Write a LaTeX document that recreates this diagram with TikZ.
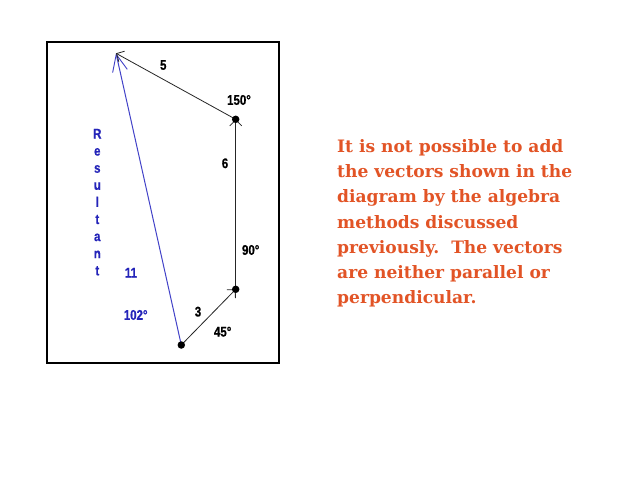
\documentclass[tikz,border=0pt]{standalone}
\usepackage{fontspec}
\setmainfont{DejaVu Serif}
\newfontfamily\notefont{DejaVu Serif Bold}
\newfontfamily\labelfont{Liberation Sans Bold}[FakeStretch=0.82,FakeBold=0.6]
\usetikzlibrary{arrows.meta}
\definecolor{notecol}{RGB}{226,84,38}
\definecolor{resline}{RGB}{66,66,200}
\definecolor{restext}{RGB}{36,36,185}
\tikzset{
  vec/.style={draw=black!85, line width=0.8pt, -{Straight Barb[length=6pt,width=12pt,line width=0.8pt]}},
  resvec/.style={draw=resline, line width=1pt, -{Straight Barb[length=17pt,width=15pt,line width=0.9pt]}},
  dot/.style={circle, fill=black, inner sep=0pt, minimum size=7.5pt},
  lbl/.style={font=\labelfont\fontsize{14}{16}\selectfont, inner sep=0pt, text=black},
  rlbl/.style={lbl, text=restext},
  note/.style={font=\notefont\fontsize{17.1}{25.1}\selectfont, text=notecol, align=left, inner sep=0pt, anchor=base west}
}
\begin{document}
\begin{tikzpicture}[x=1pt,y=-1pt]
\useasboundingbox (0,0) rectangle (638,479);
\fill[white] (0,0) rectangle (638,479);
\draw[line width=1.6pt] (47,42) rectangle (279,363);
\coordinate (O) at (181.3,345);
\coordinate (A) at (235.7,289.3);
\coordinate (B) at (235.7,119.3);
\coordinate (C) at (116,53.3);
\draw[resvec] (O) -- (C);
\draw[vec] (O) -- (A);
\draw[vec] (A) -- (B);
\draw[vec] (B) -- (C);
\node[dot] (dO) at (O) {};
\node[dot] (dA) at (A) {};
\node[dot] (dB) at (B) {};
\node[lbl] (l5) at (163.3,65) {5};
\node[lbl] (l150) at (239,100) {150°};
\node[lbl] (l6) at (225,163.3) {6};
\node[lbl] (l90) at (250.7,250) {90°};
\node[lbl] (l3) at (198,311.7) {3};
\node[lbl] (l45) at (222.7,331.7) {45°};
\node[rlbl] (l11) at (131,272.7) {11};
\node[rlbl] (l102) at (135.7,315) {102°};
\foreach \ch [count=\i] in {R,e,s,u,l,t,a,n,t}
  \node[rlbl, anchor=base] (r\i) at (97.3,{138.5+17.1*(\i-1)}) {\ch};
\node[note] (txt) at (337,303.3) {It is not possible to add\\the vectors shown in the\\diagram by the algebra\\methods discussed\\previously.\ \ The vectors\\are neither parallel or\\perpendicular.};
\end{tikzpicture}
\end{document}
